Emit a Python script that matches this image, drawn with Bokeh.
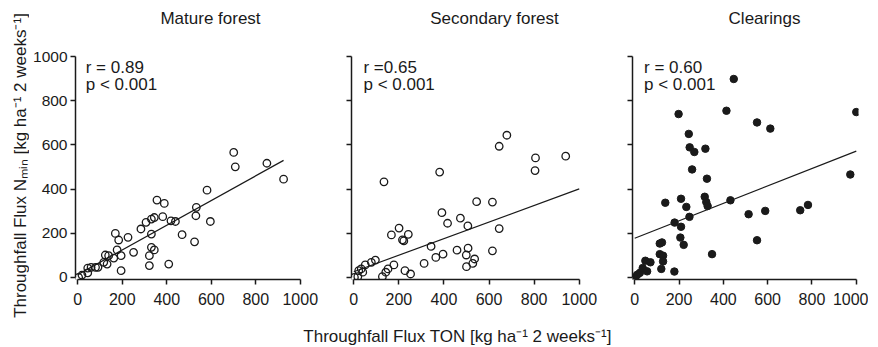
import math
from bokeh.plotting import figure
from bokeh.layouts import row, column
from bokeh.models import Range1d, Label, FixedTicker
from bokeh.embed import file_html
from bokeh.resources import INLINE

# ---------------- data ----------------
titles = ["Mature forest", "Secondary forest", "Clearings"]
r_texts = ["r = 0.89", "r =0.65", "r = 0.60"]
p_texts = ["p < 0.001", "p < 0.001", "p < 0.001"]
ticks = [0, 200, 400, 600, 800, 1000]
x_label = "Throughfall Flux TON [kg ha\u207b\u00b9 2 weeks\u207b\u00b9]"
y_label = "Throughfall Flux N\u2098\u1d62\u2099 [kg ha\u207b\u00b9 2 weeks\u207b\u00b9]"

mature_x = [4, 19, 45, 60, 45, 80, 91, 117, 124, 139, 132, 162, 169, 177, 184, 195, 195,
            226, 251, 284, 307, 322, 322, 331, 331, 344, 344, 331, 356, 389, 382, 409, 419,
            439, 469, 525, 531, 533, 581, 596, 701, 708, 850, 925]
mature_y = [0, 10, 42, 45, 20, 45, 45, 68, 101, 98, 60, 87, 199, 124, 169, 98, 30,
            181, 113, 219, 249, 98, 53, 196, 136, 271, 124, 264, 350, 335, 275, 60, 256,
            253, 193, 161, 279, 317, 395, 253, 566, 501, 517, 445]
mature_fit_x = [0, 925]
mature_fit_y = [12, 530]

secondary_x = [3, 18, 22, 33, 40, 51, 78, 96, 134, 127, 142, 152, 178, 167, 201, 216, 222,
               242, 227, 252, 312, 343, 364, 381, 391, 396, 416, 458, 473, 499, 506, 507,
               500, 528, 536, 545, 615, 615, 645, 645, 679, 806, 804, 940]
secondary_y = [0, 3, 30, 38, 23, 56, 68, 78, 433, 3, 23, 38, 56, 192, 223, 170, 165,
               195, 30, 15, 63, 140, 90, 477, 293, 105, 245, 123, 268, 101, 233, 132,
               48, 63, 83, 343, 341, 120, 221, 594, 644, 541, 484, 549]
secondary_fit_x = [0, 1000]
secondary_fit_y = [25, 401]

clearing_x = [3, 11, 23, 36, 48, 56, 71, 113, 123, 113, 128, 128, 120, 138, 179, 180, 198,
              209, 209, 206, 221, 233, 247, 244, 248, 269, 259, 319, 326, 316, 323, 329,
              349, 414, 432, 447, 514, 552, 552, 589, 612, 747, 782, 973, 1000]
clearing_y = [0, 11, 20, 42, 75, 27, 68, 153, 158, 105, 98, 72, 38, 338, 26, 248, 740,
              356, 229, 180, 147, 319, 274, 650, 589, 568, 489, 583, 447, 365, 341, 323,
              105, 755, 349, 899, 286, 702, 168, 301, 674, 304, 328, 466, 749]
clearing_fit_x = [0, 1000]
clearing_fit_y = [177, 572]

xs = [mature_x, secondary_x, clearing_x]
ys = [mature_y, secondary_y, clearing_y]
fit_xs = [mature_fit_x, secondary_fit_x, clearing_fit_x]
fit_ys = [mature_fit_y, secondary_fit_y, clearing_fit_y]
filled = [False, False, True]

# ---------------- layout / style ----------------
FONT = "Liberation Sans"
INK = "#1a1a1a"
PAD = 10
YLAB_W = 29
MAIN_W = 839
TITLE_H = 40
XLAB_H = 35
frame_w = [227, 230, 226]
left_b = [46, 27, 29]
right_b = [22, 22, 10]
title_cx = [210 - YLAB_W, 494 - YLAB_W, 764 - YLAB_W]
stat_x = [36, 43, 42]


def strip(w, h):
    s = figure(width=w, height=h, x_range=Range1d(0, w), y_range=Range1d(0, h),
               min_border=0, x_axis_type=None, y_axis_type=None,
               output_backend="svg", toolbar_location=None)
    s.outline_line_color = None
    s.grid.visible = False
    s.background_fill_color = "white"
    s.border_fill_color = "white"
    return s


figs = []
for i in range(3):
    p = figure(frame_width=frame_w[i], frame_height=225,
               min_border_left=left_b[i], min_border_right=right_b[i],
               min_border_top=54 - TITLE_H, min_border_bottom=32,
               x_range=Range1d(-PAD, 1000 + PAD), y_range=Range1d(-PAD, 1000 + PAD),
               output_backend="svg", toolbar_location=None)
    p.outline_line_color = None
    p.grid.visible = False
    p.background_fill_color = "white"
    p.border_fill_color = "white"

    for ax in (p.xaxis[0], p.yaxis[0]):
        ax.ticker = FixedTicker(ticks=ticks)
        ax.bounds = (0, 1000)
        ax.axis_line_width = 1.5
        ax.axis_line_color = INK
        ax.major_tick_line_width = 1.5
        ax.major_tick_line_color = INK
        ax.major_tick_out = 5
        ax.major_tick_in = 0
        ax.minor_tick_line_color = None
        ax.major_label_text_font = FONT
        ax.major_label_text_color = INK
    p.xaxis[0].major_label_text_font_size = "16px"
    p.yaxis[0].major_label_text_font_size = "15.5px"
    p.xaxis[0].major_label_standoff = 8
    p.yaxis[0].major_label_standoff = 3
    if i != 0:
        p.yaxis[0].major_label_overrides = {t: "" for t in ticks}

    p.line(fit_xs[i], fit_ys[i], line_color=INK, line_width=1.2)
    if filled[i]:
        p.scatter(xs[i], ys[i], size=7.5, marker="circle",
                  fill_color=INK, line_color=INK, line_width=1)
    else:
        p.scatter(xs[i], ys[i], size=7.5, marker="circle",
                  fill_color=None, line_color=INK, line_width=1.3)

    for txt, yy in ((r_texts[i], 952), (p_texts[i], 872)):
        p.add_layout(Label(x=stat_x[i], y=yy, text=txt, text_font=FONT,
                           text_font_size="17px", text_color=INK,
                           text_baseline="middle", text_align="left"))
    figs.append(p)

# titles strip
ts = strip(MAIN_W, TITLE_H)
for i in range(3):
    ts.add_layout(Label(x=title_cx[i], y=TITLE_H - 18, text=titles[i], text_font=FONT,
                        text_font_size="17px", text_color=INK,
                        text_baseline="middle", text_align="center"))

# shared x-axis title strip
xl = strip(MAIN_W, XLAB_H)
xl.add_layout(Label(x=457 - YLAB_W, y=10, text=x_label, text_font=FONT,
                    text_font_size="17px", text_color=INK,
                    text_baseline="middle", text_align="center"))

# shared y-axis title strip
total_h = 54 + 225 + 32 + XLAB_H
yl = strip(YLAB_W, total_h)
yl.add_layout(Label(x=20, y=total_h - 165, text=y_label, text_font=FONT,
                    text_font_size="17px", text_color=INK, angle=math.pi / 2,
                    text_baseline="middle", text_align="center"))

layout = row(yl, column(ts, row(*figs), xl))
open("out.html", "w").write(file_html(layout, INLINE))
